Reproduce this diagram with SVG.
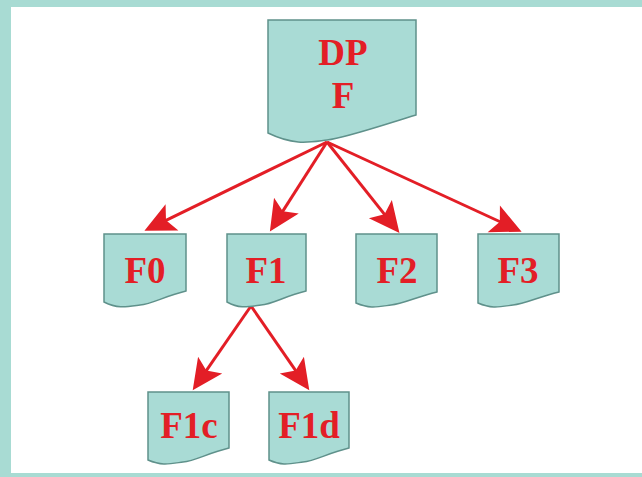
<svg xmlns="http://www.w3.org/2000/svg" width="642" height="477" viewBox="0 0 642 477">
  <style>
    .doc { fill: #a9dbd5; stroke: #5f918b; stroke-width: 1.5; stroke-linejoin: miter; }
    .lbl { font-family: "Liberation Serif", "Times New Roman", serif; font-weight: bold; font-size: 37px; fill: #e31e26; text-anchor: middle; }
    .edge { stroke: #e31e26; stroke-width: 3; fill: none; marker-end: url(#head); }
  </style>
  <defs>
    <marker id="head" markerUnits="userSpaceOnUse" markerWidth="40" markerHeight="40" viewBox="-14 -14 30 28" refX="0" refY="0" orient="auto" overflow="visible">
      <path d="M12,0 L-11,-11 L-6,0 L-11,11 Z" fill="#e31e26"/>
    </marker>
  </defs>

  <!-- frame -->
  <rect x="0" y="0" width="642" height="477" fill="#a8dbd3"/>
  <rect x="11" y="7" width="631" height="466" fill="#ffffff"/>

  <!-- connectors -->
  <g id="connectors">
    <line class="edge" x1="327" y1="142" x2="158.8" y2="223.8"/>
    <line class="edge" x1="327" y1="142" x2="278.5" y2="217.9"/>
    <line class="edge" x1="327" y1="142" x2="389.5" y2="220.6"/>
    <line class="edge" x1="327" y1="142" x2="507.1" y2="225.0"/>
    <line class="edge" x1="251" y1="306" x2="201.8" y2="377.1"/>
    <line class="edge" x1="251" y1="306" x2="300.2" y2="377.1"/>
  </g>

  <!-- nodes -->
  <g id="node-dpf">
    <path class="doc" d="M268,20 H416 V115 C380,126 345,138 327,140 C310,142 295,146 268,133 Z"/>
    <text class="lbl" x="343" y="65">DP</text>
    <text class="lbl" x="343" y="108">F</text>
  </g>
  <g id="node-f0">
    <path class="doc" d="M104,234 H186 V291 C165,296 152,304 140,305 C126,307 118,309 104,302 Z"/>
    <text class="lbl" x="145" y="283">F0</text>
  </g>
  <g id="node-f1">
    <path class="doc" d="M227,234 H306 V291 C285,296 273,304 261,305 C247,307 240,309 227,302 Z"/>
    <text class="lbl" x="266" y="283">F1</text>
  </g>
  <g id="node-f2">
    <path class="doc" d="M356,234 H437 V292 C416,297 403,304 391,305 C377,307 370,309 356,303 Z"/>
    <text class="lbl" x="397" y="283">F2</text>
  </g>
  <g id="node-f3">
    <path class="doc" d="M478,234 H559 V292 C538,297 525,304 513,305 C499,307 492,309 478,303 Z"/>
    <text class="lbl" x="518" y="283">F3</text>
  </g>
  <g id="node-f1c">
    <path class="doc" d="M148,392 H229 V448 C208,453 195,461 183,462 C169,464 162,466 148,460 Z"/>
    <text class="lbl" x="189" y="438">F1c</text>
  </g>
  <g id="node-f1d">
    <path class="doc" d="M269,392 H349 V448 C328,453 315,461 303,462 C289,464 282,466 269,460 Z"/>
    <text class="lbl" x="309" y="438">F1d</text>
  </g>
</svg>
